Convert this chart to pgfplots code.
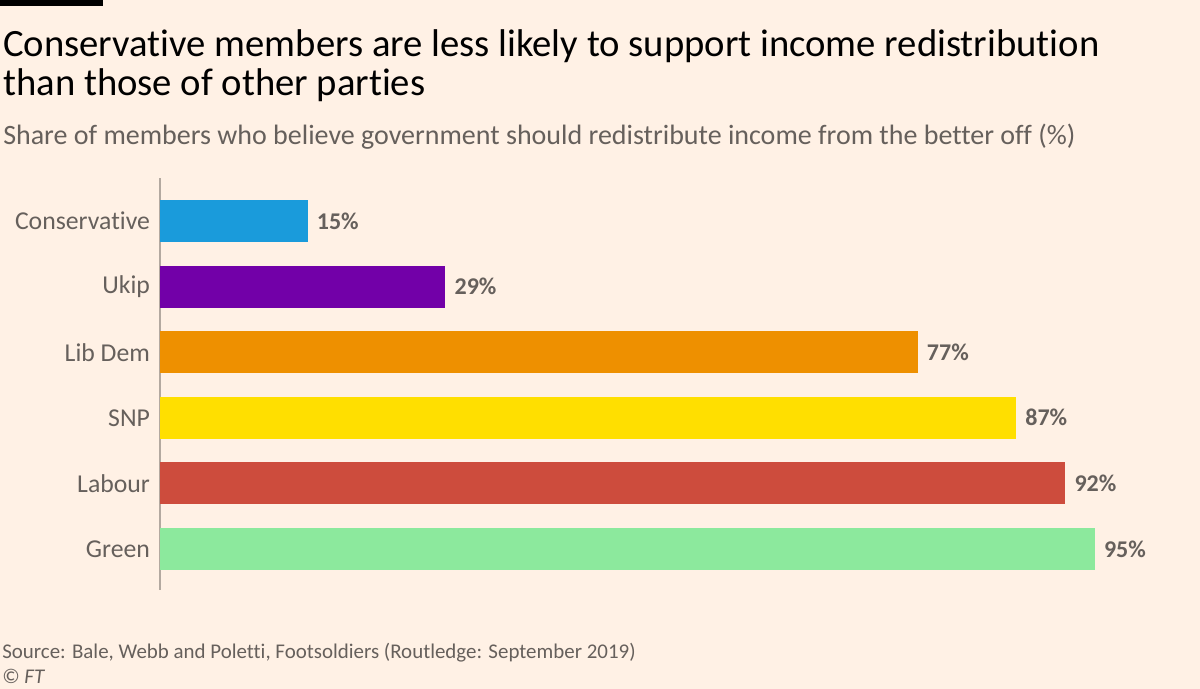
\documentclass[border=0pt]{standalone}
\usepackage{pgfplots}
\pgfplotsset{compat=1.18}
\usepackage{fontspec}
\setmainfont{Carlito}[Ligatures={NoCommon,NoContextual}]
\definecolor{bg}{HTML}{FFF1E5}
\definecolor{txt}{HTML}{66605C}
\definecolor{axl}{HTML}{B3A9A0}
\definecolor{con}{HTML}{1A9BDB}
\definecolor{ukip}{HTML}{7200A8}
\definecolor{ld}{HTML}{EE9000}
\definecolor{snp}{HTML}{FFDF00}
\definecolor{lab}{HTML}{CD4C3D}
\definecolor{grn}{HTML}{8CE99D}
\begin{document}
\begin{tikzpicture}[x=0.75pt,y=0.75pt]
\fill[bg] (0,0) rectangle (1200,689);
\useasboundingbox (0,0) rectangle (1200,689);
\fill[black] (0,683) rectangle (103,689);
\node[anchor=base west, inner sep=0, font=\fontsize{29}{34}\selectfont] at (3,632) {Conservative members are less likely to support income redistribution};
\node[anchor=base west, inner sep=0, font=\fontsize{29}{34}\selectfont] at (3,593) {than those of other parties};
\node[anchor=base west, inner sep=0, text=txt, font=\fontsize{21}{25}\selectfont] at (3,544) {Share of members who believe government should redistribute income from the better off (\%)};
\node[anchor=base west, inner sep=0, text=txt, font=\fontsize{15.7}{19}\selectfont] at (2,30) {Source: Bale, Webb and Poletti, Footsoldiers (Routledge: September 2019)};
\node[anchor=base west, inner sep=0, text=txt, font=\fontsize{15.7}{19}\selectfont] at (2,5) {\textcopyright\ \textit{FT}};
\begin{axis}[
  at={(120pt,74.25pt)}, anchor=south west,
  scale only axis, width=738pt, height=309pt,
  xbar, bar width=31.5pt, bar shift=0pt,
  xmin=0, xmax=100, ymin=-0.655, ymax=5.625,
  y dir=reverse,
  axis x line=none, axis y line*=left,
  y axis line style={color=axl, line width=1pt},
  ytick={0,1,2,3,4,5},
  yticklabels={Conservative,Ukip,Lib Dem,SNP,Labour,Green},
  major tick length=0pt,
  yticklabel style={text=txt, font=\fontsize{19.3}{22}\selectfont, xshift=-4pt},
  point meta=x,
  /pgf/number format/assume math mode=true,
  nodes near coords={\pgfmathprintnumber{\pgfplotspointmeta}\%},
  nodes near coords style={anchor=west, inner sep=0pt, xshift=6.75pt, text=txt, font=\bfseries\fontsize{18}{21}\selectfont},
  clip=false,
]
\addplot[fill=con, draw=none] coordinates {(15,0)};
\addplot[fill=ukip, draw=none] coordinates {(29,1)};
\addplot[fill=ld, draw=none] coordinates {(77,2)};
\addplot[fill=snp, draw=none] coordinates {(87,3)};
\addplot[fill=lab, draw=none] coordinates {(92,4)};
\addplot[fill=grn, draw=none] coordinates {(95,5)};
\end{axis}
\end{tikzpicture}
\end{document}
